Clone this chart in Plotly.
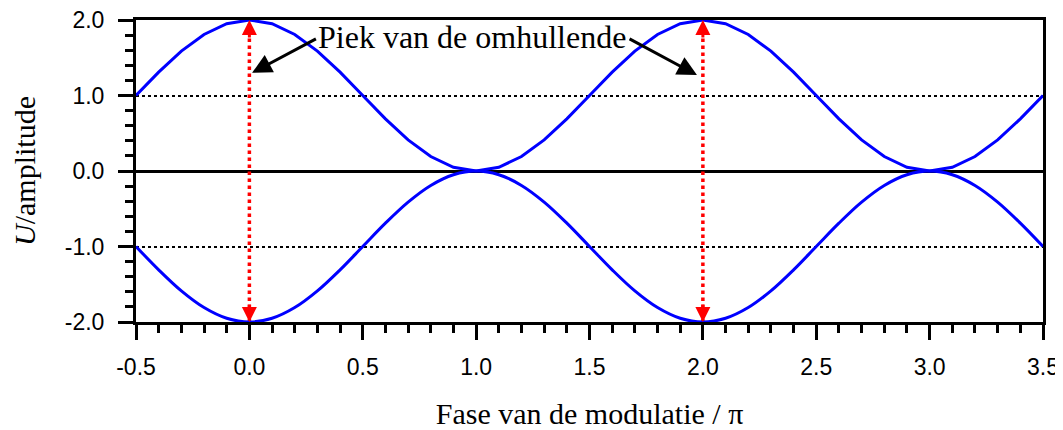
import numpy as np
import plotly.graph_objects as go

# phase (units of pi), sampled every 0.1
phase = np.round(np.arange(-0.5, 3.5001, 0.1), 2)

upper_env = [1.0, 1.309, 1.588, 1.809, 1.951, 2.0, 1.951, 1.809, 1.588, 1.309,
             1.0, 0.691, 0.412, 0.191, 0.049, 0.0, 0.049, 0.191, 0.412, 0.691,
             1.0, 1.309, 1.588, 1.809, 1.951, 2.0, 1.951, 1.809, 1.588, 1.309,
             1.0, 0.691, 0.412, 0.191, 0.049, 0.0, 0.049, 0.191, 0.412, 0.691, 1.0]
lower_env = [-1.0, -1.309, -1.588, -1.809, -1.951, -2.0, -1.951, -1.809, -1.588, -1.309,
             -1.0, -0.691, -0.412, -0.191, -0.049, 0.0, -0.049, -0.191, -0.412, -0.691,
             -1.0, -1.309, -1.588, -1.809, -1.951, -2.0, -1.951, -1.809, -1.588, -1.309,
             -1.0, -0.691, -0.412, -0.191, -0.049, 0.0, -0.049, -0.191, -0.412, -0.691, -1.0]

peak_x = [0.0, 2.0]
peak_top = 2.0
peak_bottom = -2.0

x_ticks = [-0.5, 0.0, 0.5, 1.0, 1.5, 2.0, 2.5, 3.0, 3.5]
x_ticktext = ["-0.5", "0.0", "0.5", "1.0", "1.5", "2.0", "2.5", "3.0", "3.5"]
y_ticks = [-2.0, -1.0, 0.0, 1.0, 2.0]
y_ticktext = ["-2.0", "-1.0", "0.0", "1.0", "2.0"]

label_text = "Piek van de omhullende"
label_pos = (0.98, 1.775)
arrow_tails = [(0.30, 1.76), (1.67, 1.76)]
arrow_tips = [(0.012, 1.30), (1.974, 1.27)]

BLUE = "#0000FF"
RED = "#FF0000"
SERIF = "Liberation Serif, Times New Roman, serif"
SANS = "Liberation Sans, Arial, sans-serif"

fig = go.Figure()

# red dotted peak markers
for px in peak_x:
    fig.add_trace(go.Scatter(x=[px, px], y=[peak_bottom, peak_top], mode="lines",
                             line=dict(color=RED, width=3.5, dash="dot"),
                             showlegend=False, hoverinfo="skip"))

fig.add_trace(go.Scatter(x=phase, y=upper_env, mode="lines",
                         line=dict(color=BLUE, width=3), showlegend=False))
fig.add_trace(go.Scatter(x=phase, y=lower_env, mode="lines",
                         line=dict(color=BLUE, width=3, shape="spline"), showlegend=False))

annotations = []
for px in peak_x:
    for tip, tail in ((peak_top, peak_top - 0.25), (peak_bottom, peak_bottom + 0.25)):
        annotations.append(dict(x=px, y=tip, ax=px, ay=tail, xref="x", yref="y",
                                axref="x", ayref="y", text="", showarrow=True,
                                arrowhead=2, arrowsize=1.0, arrowwidth=3,
                                arrowcolor=RED))
for (tx, ty), (hx, hy) in zip(arrow_tails, arrow_tips):
    annotations.append(dict(x=hx, y=hy, ax=tx, ay=ty, xref="x", yref="y",
                            axref="x", ayref="y", text="", showarrow=True,
                            arrowhead=2, arrowsize=1.3, arrowwidth=3,
                            arrowcolor="black"))
annotations.append(dict(x=label_pos[0], y=label_pos[1], xref="x", yref="y",
                        text=label_text, showarrow=False,
                        font=dict(family=SERIF, size=32, color="black"),
                        bgcolor="rgba(0,0,0,0)"))

fig.update_layout(
    width=1055, height=422,
    margin=dict(l=128, r=20, t=12, b=108),
    paper_bgcolor="white", plot_bgcolor="white",
    annotations=annotations,
    showlegend=False,
)

fig.update_xaxes(
    range=[-0.5, 3.5], tickvals=x_ticks, ticktext=x_ticktext, automargin=False,
    ticklabeloverflow="allow",
    ticks="outside", ticklen=15, tickwidth=2.5, tickcolor="black",
    minor=dict(dtick=0.1, tick0=-0.5, ticks="outside", ticklen=8, tickwidth=2.5, tickcolor="black"),
    showline=True, linecolor="black", linewidth=3, mirror=True,
    showgrid=False, zeroline=False,
    tickfont=dict(family=SANS, size=23, color="black"),
    ticklabelstandoff=7,
    title=dict(text="Fase van de modulatie / π", font=dict(family=SERIF, size=30, color="black"),
               standoff=30),
)
fig.update_yaxes(
    range=[-2.0, 2.0], tickvals=y_ticks, ticktext=y_ticktext, automargin=False,
    ticklabeloverflow="allow",
    ticks="outside", ticklen=15, tickwidth=2.5, tickcolor="black",
    minor=dict(dtick=0.2, tick0=-2.0, ticks="outside", ticklen=8, tickwidth=2.5, tickcolor="black"),
    showline=True, linecolor="black", linewidth=3, mirror=True,
    showgrid=True, gridcolor="black", gridwidth=1.5, griddash="dot",
    zeroline=True, zerolinecolor="black", zerolinewidth=3,
    tickfont=dict(family=SANS, size=23, color="black"),
    ticklabelstandoff=9,
    title=dict(text="<i>U</i>/amplitude", font=dict(family=SERIF, size=30, color="black"),
               standoff=23),
)

fig.write_html("out.html")
